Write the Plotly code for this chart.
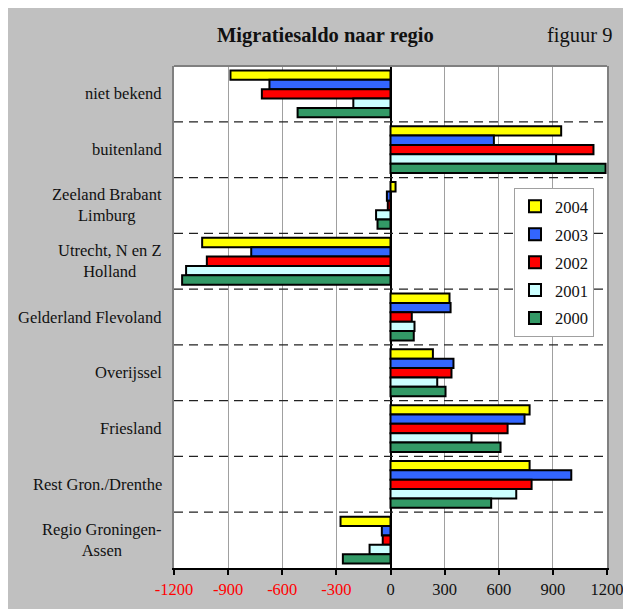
import plotly.graph_objects as go

categories = [
    "niet bekend",
    "buitenland",
    "Zeeland Brabant<br>Limburg",
    "Utrecht, N en Z<br>Holland",
    "Gelderland Flevoland",
    "Overijssel",
    "Friesland",
    "Rest Gron./Drenthe",
    "Regio Groningen-<br>Assen",
]

years = ["2004", "2003", "2002", "2001", "2000"]
v2004 = [-887, 946, 28, -1044, 327, 235, 771, 771, -277]
v2003 = [-671, 573, -20, -772, 333, 349, 743, 1002, -48]
v2002 = [-713, 1125, -15, -1018, 118, 338, 649, 782, -43]
v2001 = [-206, 918, -80, -1133, 133, 259, 449, 697, -116]
v2000 = [-515, 1192, -72, -1155, 129, 305, 610, 558, -264]
series_values = [v2004, v2003, v2002, v2001, v2000]
colors = ["#FFFF00", "#3366FF", "#FF0000", "#CCFFFF", "#339966"]

x_ticks = [-1200, -900, -600, -300, 0, 300, 600, 900, 1200]

FONT = "Liberation Serif"
OFF = 8  # page body margin
W, H = 631, 609
PW, PH = 433, 502
L, T = 174 - OFF, 66 - OFF
R, B = W - L - PW, H - T - PH


def px_x(x):
    return (x - OFF - L) / PW


def px_y(y):
    return (T + PH - (y - OFF)) / PH


fig = go.Figure()
for yr, vals, col in zip(years, series_values, colors):
    fig.add_trace(go.Bar(
        y=list(range(len(categories))), x=vals, orientation="h", name=yr,
        legendgroup=yr,
        marker=dict(color=col, line=dict(color="black", width=2)),
    ))

ticktext = [f'<span style="color:#FF0000">{v}</span>' if v < 0 else str(v) for v in x_ticks]

shapes = []
for i in range(len(categories) - 1):
    shapes.append(dict(type="line", xref="paper", yref="y", x0=0, x1=1, y0=i + 0.5, y1=i + 0.5,
                       line=dict(color="#222222", width=1.2, dash="9px,6px"), layer="above"))
# top border
shapes.append(dict(type="line", xref="paper", yref="paper", x0=0, x1=1, y0=1, y1=1,
                   line=dict(color="#808080", width=2)))

annotations = []
for i, c in enumerate(categories):
    annotations.append(dict(text=c, xref="paper", yref="y", x=px_x(164), y=i,
                            xanchor="right", yanchor="middle", align="center", showarrow=False,
                            font=dict(family=FONT, size=16.5, color="#111111")))
annotations.append(dict(text="<b>Migratiesaldo naar regio</b>", xref="paper", yref="paper",
                        x=px_x(325), y=px_y(35), xanchor="center", yanchor="middle", showarrow=False,
                        font=dict(family=FONT, size=20.5, color="#111111")))
annotations.append(dict(text="figuur 9", xref="paper", yref="paper",
                        x=px_x(579), y=px_y(35), xanchor="center", yanchor="middle", showarrow=False,
                        font=dict(family=FONT, size=20.5, color="#111111")))

fig.update_layout(
    width=W, height=H,
    margin=dict(l=L, r=R, t=T, b=B, pad=0),
    paper_bgcolor="#C0C0C0", plot_bgcolor="white",
    barmode="group", bargap=0.16, bargroupgap=0,
    font=dict(family=FONT, size=16.5, color="#111111"),
    showlegend=True,
    legend=dict(x=px_x(514), y=px_y(188), xanchor="left", yanchor="top",
                bgcolor="white", bordercolor="#A0A0A0", borderwidth=1,
                font=dict(family=FONT, size=16.5, color="#111111"),
                traceorder="grouped", tracegroupgap=3.5, itemwidth=30),
    xaxis=dict(range=[-1200, 1200], tickvals=x_ticks, ticktext=ticktext,
               showgrid=True, gridcolor="#A0A0A0", gridwidth=1,
               zeroline=True, zerolinecolor="black", zerolinewidth=1.5,
               showline=True, linecolor="black", linewidth=1.5,
               ticks="outside", ticklen=5, tickcolor="black", tickwidth=1.5,
               ticklabelstandoff=0,
               tickfont=dict(family=FONT, size=16.5, color="#111111"), fixedrange=True),
    yaxis=dict(range=[len(categories) - 0.5, -0.5], showticklabels=False, showgrid=False,
               zeroline=False, showline=True, linecolor="#808080", linewidth=2, mirror=True,
               ticks="", fixedrange=True),
    shapes=shapes,
    annotations=annotations,
)

fig.write_html("out.html")
